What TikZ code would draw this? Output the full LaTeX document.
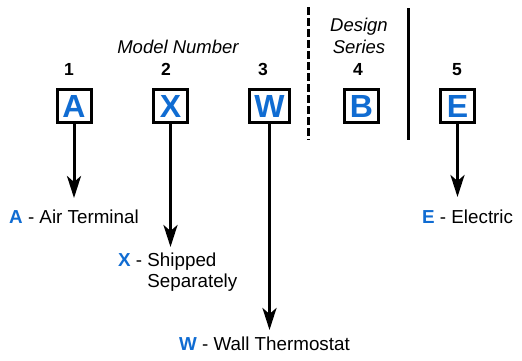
\documentclass[tikz,border=0pt]{standalone}
\usepackage{fontspec}
\setmainfont{Liberation Sans}
\usetikzlibrary{arrows.meta}
\definecolor{codeblue}{RGB}{16,108,210}
\begin{document}
\begin{tikzpicture}[x=1pt,y=-1pt,
  codebox/.style={draw,line width=3pt,minimum width=34pt,minimum height=32pt,inner sep=5pt,font=\fontsize{32}{36}\selectfont\bfseries,text=codeblue},
  posnum/.style={font=\fontsize{17.5}{20}\selectfont\bfseries,anchor=base,inner sep=0pt},
  head/.style={font=\fontsize{18.5}{21}\selectfont\itshape,anchor=base,inner sep=0pt},
  lbl/.style={font=\fontsize{18.8}{21}\selectfont,anchor=base west,inner sep=0pt},
  arr/.style={line width=3pt,-{Stealth[length=22pt,width=14pt,inset=6pt]}},
  sepline/.style={line width=3pt}]
\useasboundingbox (0,0) rectangle (522,360);
% headers
\node[head] (mn) at (178,53) {Model Number};
\node[head] (ds1) at (359,31) {Design};
\node[head] (ds2) at (359,53) {Series};
% position numbers
\node[posnum] (n1) at (69,75) {1};
\node[posnum] (n2) at (166,75) {2};
\node[posnum] (n3) at (263,75) {3};
\node[posnum] (n4) at (358,75) {4};
\node[posnum] (n5) at (457,75) {5};
% boxes
\node[codebox] (A) at (74,106) {A};
\node[codebox] (X) at (170.5,106) {X};
\node[codebox] (W) at (269.5,106) {W};
\node[codebox] (B) at (361.5,106) {B};
\node[codebox] (E) at (457.5,106) {E};
% separators
\coordinate (d1) at (308,7);
\coordinate (d2) at (308,140);
\coordinate (s1) at (408,8);
\coordinate (s2) at (408,140);
\draw[sepline,dash pattern=on 8pt off 3pt] (d1) -- (d2);
\draw[sepline] (s1) -- (s2);
% arrow tips
\coordinate (tA) at (74,198);
\coordinate (tX) at (170.5,247);
\coordinate (tW) at (269.5,330);
\coordinate (tE) at (457.5,197);
\draw[arr] (A) -- (tA);
\draw[arr] (X) -- (tX);
\draw[arr] (W) -- (tW);
\draw[arr] (E) -- (tE);
% labels
\node[lbl] (lA) at (9,223) {\textcolor{codeblue}{\textbf{A}} - Air Terminal};
\node[lbl] (lX) at (118,266) {\begin{tabular}[t]{@{}l@{}l@{}}\textcolor{codeblue}{\textbf{X}}\ - & \ Shipped\\ & \ Separately\end{tabular}};
\node[lbl] (lW) at (179,350) {\textcolor{codeblue}{\textbf{W}} - Wall Thermostat};
\node[lbl] (lE) at (422,223) {\textcolor{codeblue}{\textbf{E}} - Electric};
\end{tikzpicture}
\end{document}
